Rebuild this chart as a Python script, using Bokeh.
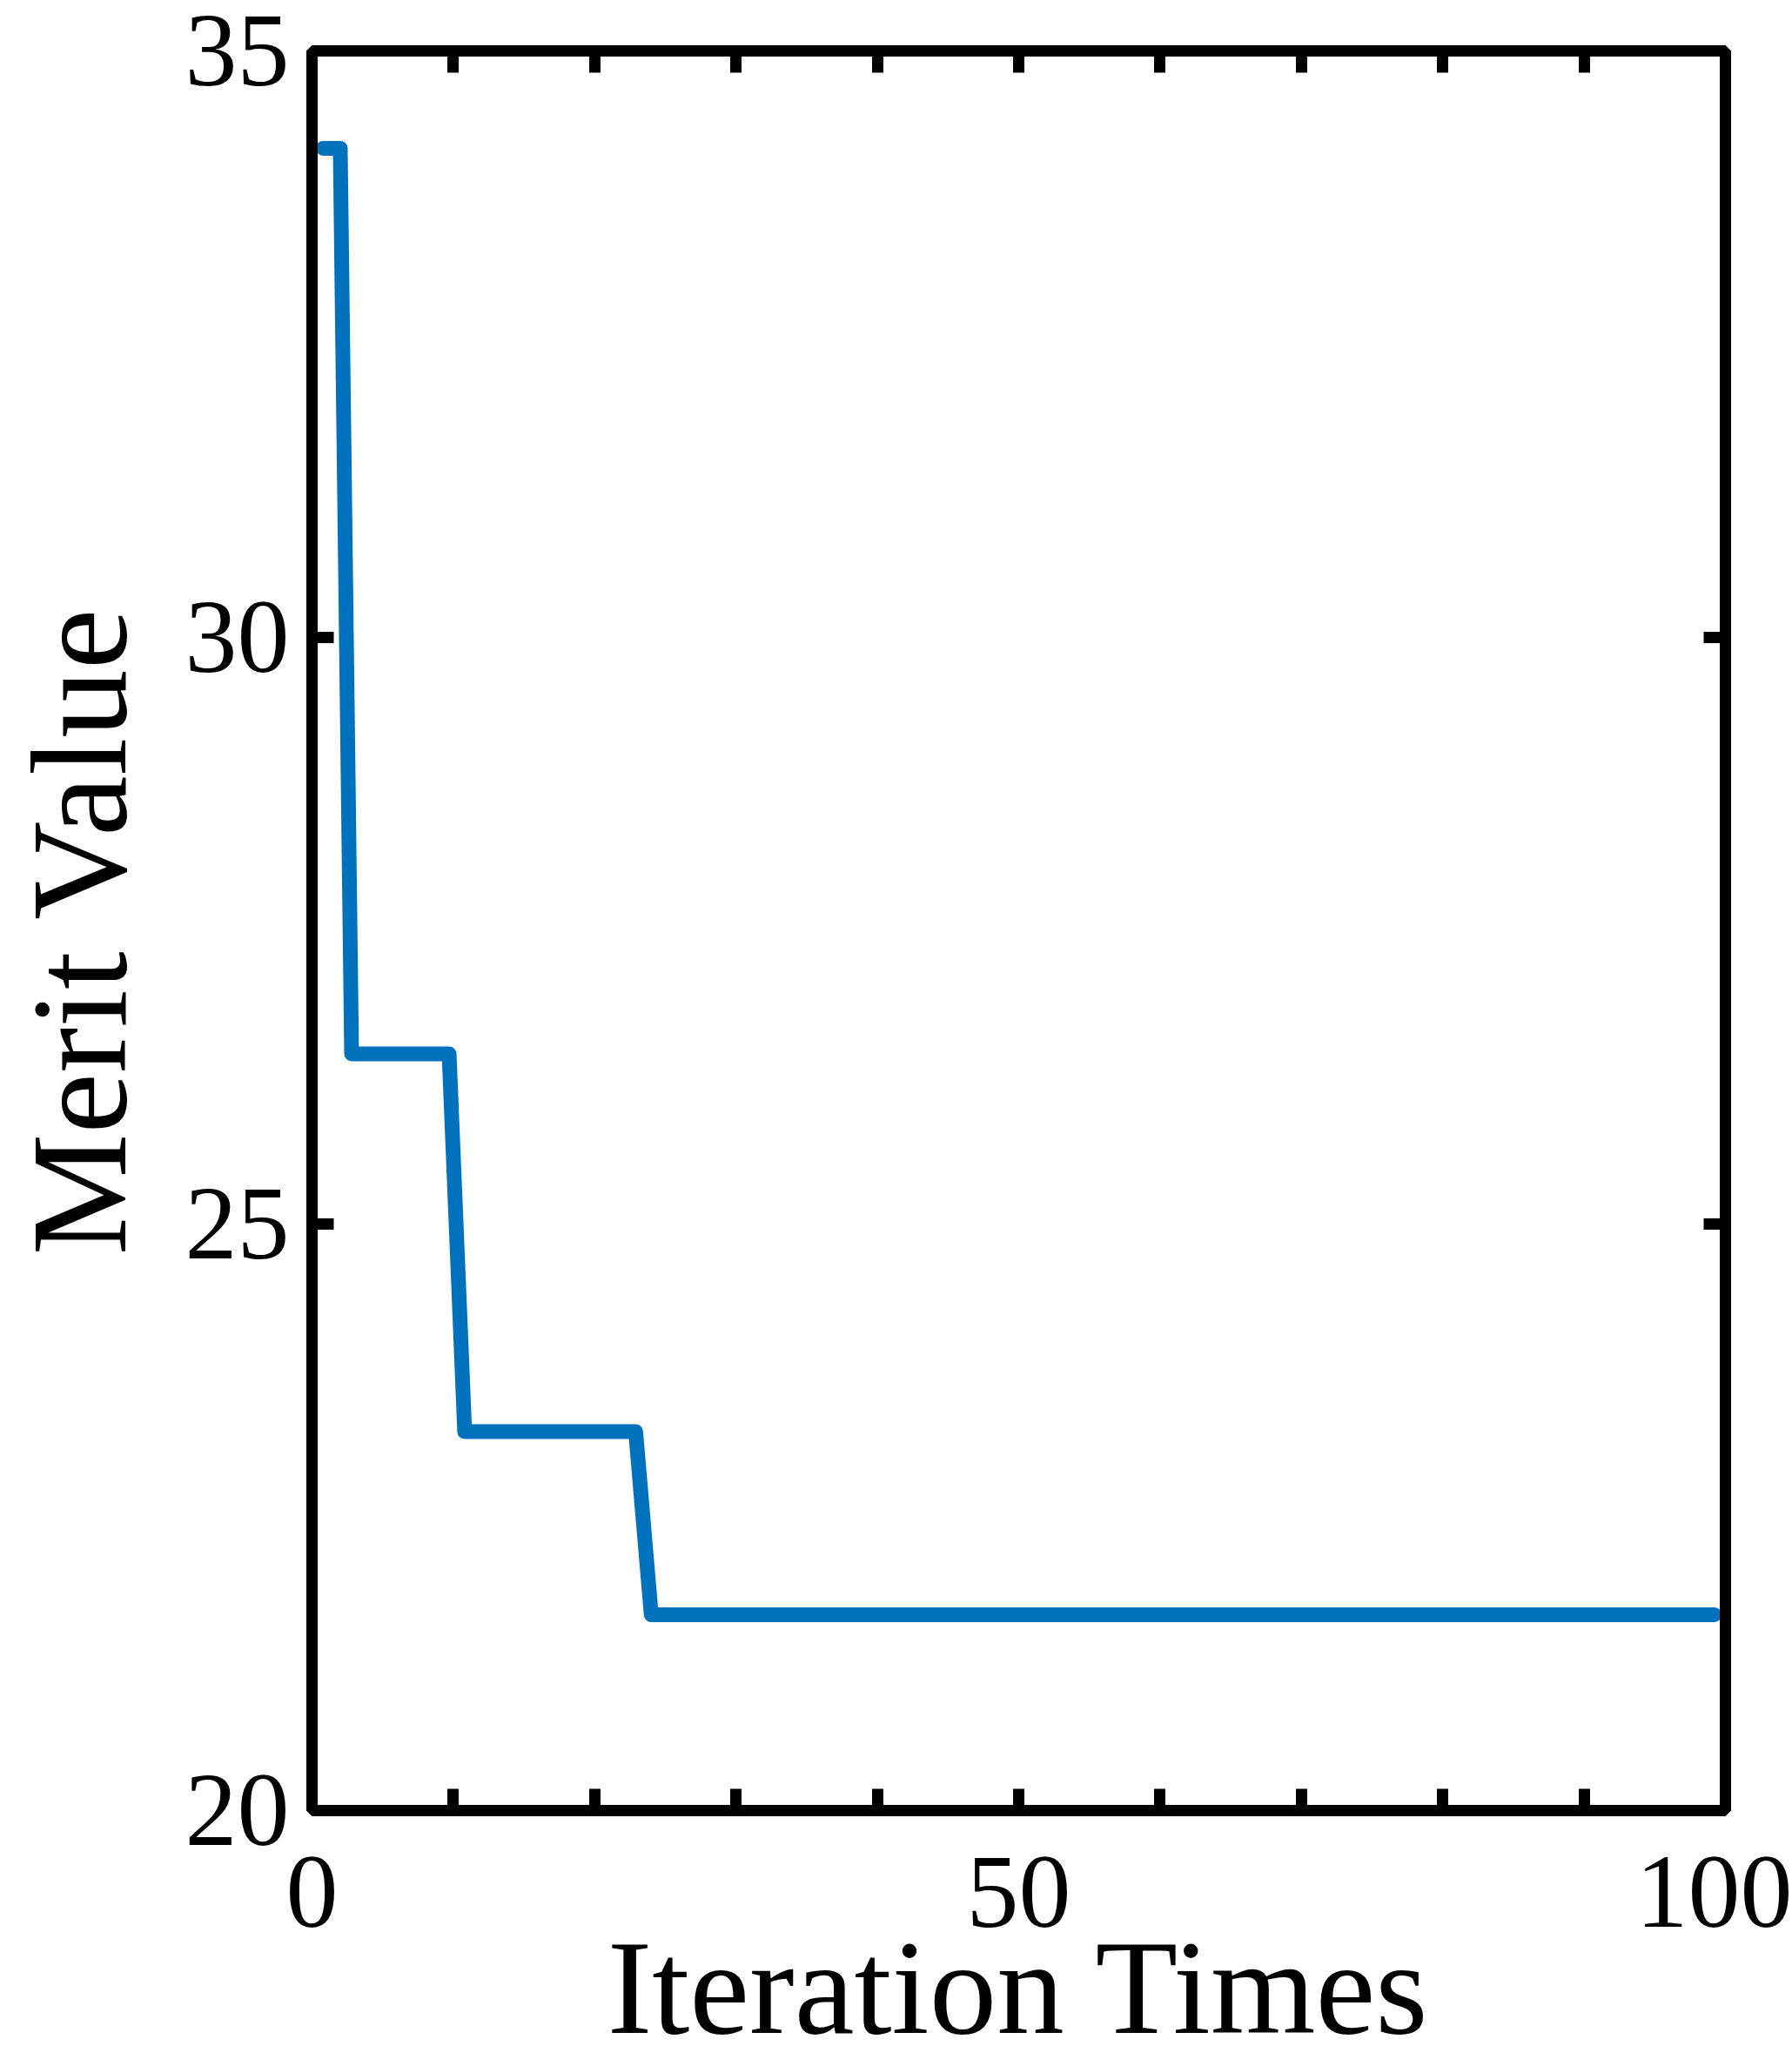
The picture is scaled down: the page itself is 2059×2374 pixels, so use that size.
from bokeh.plotting import figure
from bokeh.models import Range1d, FixedTicker, LinearAxis
from bokeh.embed import file_html
from bokeh.resources import INLINE

# Data
iterations = [0.8, 2, 2.8, 9.7, 10.8, 22.9, 24, 99.2]
merit = [34.17, 34.17, 26.45, 26.45, 23.23, 23.23, 21.67, 21.67]

x_major = [0, 50, 100]
x_minor = [10, 20, 30, 40, 60, 70, 80, 90]
y_major = [20, 25, 30, 35]

FONT = "Liberation Serif"

p = figure(width=2059, height=2374, output_backend="svg", toolbar_location=None,
           x_range=Range1d(0, 100), y_range=Range1d(20, 35),
           min_border_left=356, min_border_right=77,
           min_border_top=58, min_border_bottom=294)
p.grid.visible = False
p.background_fill_color = "white"
p.border_fill_color = "white"
p.outline_line_color = "black"
p.outline_line_width = 13

p.line(iterations, merit, line_width=17, line_color="#0072BD",
       line_join="round", line_cap="round")

xt = FixedTicker(ticks=x_major, minor_ticks=x_minor)
yt = FixedTicker(ticks=y_major, minor_ticks=[])


def style(ax):
    ax.axis_line_width = 13
    ax.axis_line_color = "black"
    ax.major_tick_line_width = 13
    ax.minor_tick_line_width = 13
    ax.major_tick_in = 25
    ax.major_tick_out = 0
    ax.minor_tick_in = 25
    ax.minor_tick_out = 0
    ax.major_tick_line_color = "black"
    ax.minor_tick_line_color = "black"
    ax.major_label_text_font = FONT
    ax.major_label_text_color = "black"
    ax.axis_label_text_font = FONT
    ax.axis_label_text_font_style = "normal"
    ax.axis_label_text_color = "black"


xa = p.xaxis[0]
xa.ticker = xt
style(xa)
xa.major_label_text_font_size = "120px"
xa.axis_label = "Iteration Times"
xa.axis_label_text_font_size = "155px"
xa.major_label_standoff = 54
xa.axis_label_standoff = -19

ya = p.yaxis[0]
ya.ticker = yt
style(ya)
ya.major_label_text_font_size = "120px"
ya.axis_label = "Merit Value"
ya.axis_label_text_font_size = "157px"
ya.major_label_standoff = 26
ya.axis_label_standoff = 32

# mirrored ticks on the top and right edges of the box (no labels)
top = LinearAxis(ticker=xt, major_label_overrides={t: "" for t in x_major})
style(top)
p.add_layout(top, "above")

right = LinearAxis(ticker=yt, major_label_overrides={t: "" for t in y_major})
style(right)
p.add_layout(right, "right")

open("out.html", "w").write(file_html(p, INLINE))
